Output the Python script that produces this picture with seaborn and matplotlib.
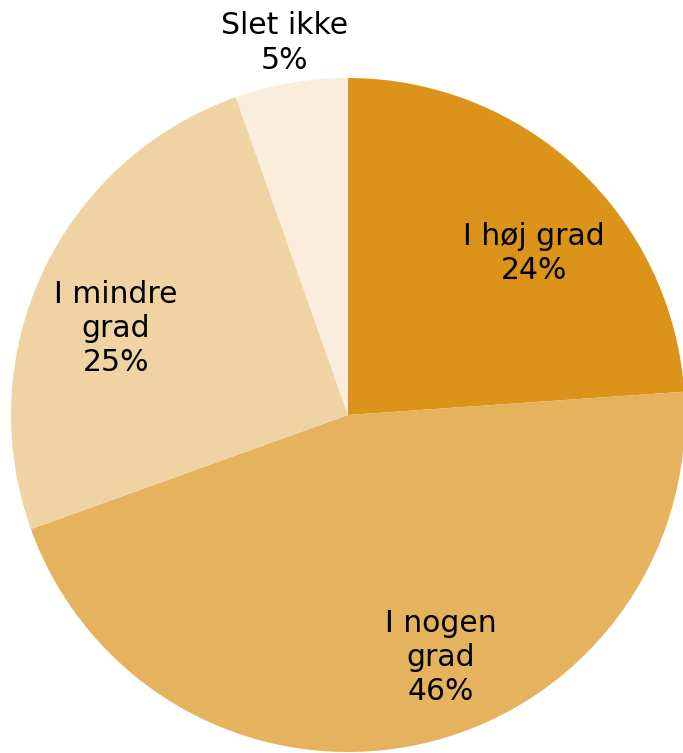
import numpy as np
import matplotlib
matplotlib.use("Agg")
import matplotlib.pyplot as plt
import seaborn as sns

# -------------------- DATA --------------------
categories = ["I høj grad", "I nogen\ngrad", "I mindre\ngrad", "Slet ikke"]
values = [23.9, 45.6, 25.1, 5.4]
colors = ["#DB9319", "#E5B25D", "#F0D3A3", "#FAEDDC"]

# label layout: radius (fraction of pie radius) and angle tweak (deg)
label_r = [0.73, 0.77, 0.735, 1.12]
label_dtheta = [-6, 9, 5, 0]

sns.set_theme(style="white")
plt.rcParams["font.family"] = ["DejaVu Sans"]

fig = plt.figure(figsize=(6.83, 7.53), dpi=100)
ax = fig.add_axes([11 / 683, 1 / 753, 674 / 683, 674 / 753])

wedges, _ = ax.pie(values, colors=colors, startangle=90, counterclock=False,
                   radius=1, wedgeprops=dict(linewidth=0))

for w, cat, v, r, dt in zip(wedges, categories, values, label_r, label_dtheta):
    mid = np.deg2rad((w.theta1 + w.theta2) / 2 + dt)
    ax.text(r * np.cos(mid), r * np.sin(mid), f"{cat}\n{round(v)}%",
            ha="center", va="center", fontsize=21.5, linespacing=1.22,
            color="black")

ax.set_xlim(-1, 1)
ax.set_ylim(-1, 1)
ax.set_aspect("equal")
ax.axis("off")
fig.savefig("out.png", dpi=100)
